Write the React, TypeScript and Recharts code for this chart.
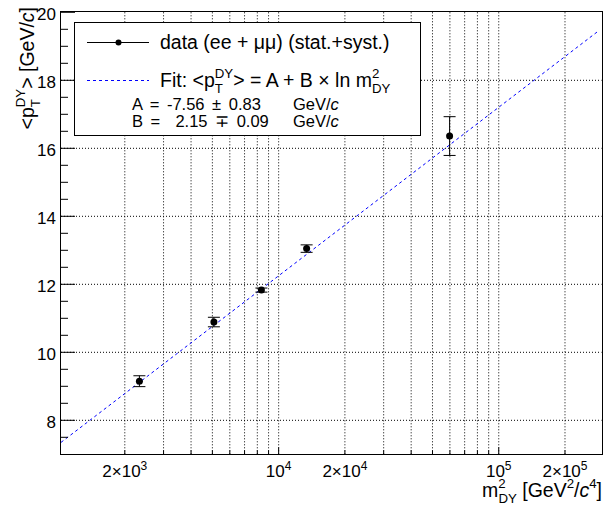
import React from 'react';
import { ComposedChart, Scatter, Line, XAxis, YAxis, ErrorBar, ReferenceLine } from 'recharts';

const massSq = [2330, 5080, 8350, 13400, 59800];
const meanPt = [9.15, 10.89, 11.83, 13.05, 16.36];
const meanPtErr = [0.16, 0.14, 0.06, 0.11, 0.57];

// fit line end points
const fitMassSq = [1026, 281000];
const fitMeanPt = [7.35, 19.43];

const xGrid = [2000, 3000, 4000, 5000, 6000, 7000, 8000, 9000, 10000, 20000, 30000, 40000, 50000, 60000, 70000, 80000, 90000, 100000, 200000];
const xLabelled = [2000, 10000, 20000, 100000, 200000];
const xLabelMant = ['2×10', '10', '2×10', '10', '2×10'];
const xLabelExp = ['3', '4', '4', '5', '5'];
const yGrid = [8, 10, 12, 14, 16, 18];
const yTicks = [7.5, 8, 8.5, 9, 9.5, 10, 10.5, 11, 11.5, 12, 12.5, 13, 13.5, 14, 14.5, 15, 15.5, 16, 16.5, 17, 17.5, 18, 18.5, 19, 19.5, 20];

const FONT = '"Liberation Sans", Arial, Helvetica, sans-serif';
const W = 603;
const H = 507;
const PLOT = { left: 61, top: 12.3, right: 601.5, bottom: 454.3 };

const points = massSq.map((x, i) => ({ x, y: meanPt[i], err: meanPtErr[i] }));
const fitData = fitMassSq.map((x, i) => ({ x, y: fitMeanPt[i] }));

// glyph widths (em) used to stack sup/sub
const CW: Record<string, number> = { T: 0.611, D: 0.722, Y: 0.667, '2': 0.556 };
const textW = (s: string) => s.split('').reduce((a, c) => a + (CW[c] ?? 0.6), 0);

const XTick = (props: any) => {
  const { x, y, payload } = props;
  const v = payload.value;
  const i = xLabelled.indexOf(v);
  const len = v === 10000 || v === 100000 ? 7 : 4;
  return (
    <g>
      <line x1={x} x2={x} y1={y} y2={y - len} stroke="#000" />
      {i >= 0 && (
        <text x={x} y={y + 23} textAnchor="middle" fontSize={17} fontFamily={FONT} fill="#000">
          {xLabelMant[i]}
          <tspan dy={-7} fontSize={12}>{xLabelExp[i]}</tspan>
        </text>
      )}
    </g>
  );
};

const YTick = (props: any) => {
  const { x, y, payload } = props;
  const v = payload.value;
  const major = v % 2 === 0;
  return (
    <g>
      <line x1={x} x2={x + (major ? 14 : 7)} y1={y} y2={y} stroke="#000" />
      {major && (
        <text x={x - 5} y={y + 7.5} textAnchor="end" fontSize={17} fontFamily={FONT} fill="#000">
          {v}
        </text>
      )}
    </g>
  );
};

// stacked superscript/subscript like ROOT's p_{T}^{DY}
function SS({ sup, sub }: { sup: string; sub: string }) {
  const supFirst = textW(sup) <= textW(sub);
  const first = supFirst ? sup : sub;
  const second = supFirst ? sub : sup;
  const base: React.CSSProperties = { fontSize: '0.68em', position: 'relative' };
  const supStyle: React.CSSProperties = { ...base, top: '-0.68em' };
  const subStyle: React.CSSProperties = { ...base, top: '0.42em' };
  return (
    <>
      <span style={supFirst ? supStyle : subStyle}>{first}</span>
      <span style={{ ...(supFirst ? subStyle : supStyle), marginLeft: `-${textW(first)}em` }}>{second}</span>
    </>
  );
}

function Sup({ children }: { children: React.ReactNode }) {
  return <span style={{ fontSize: '0.68em', position: 'relative', top: '-0.68em' }}>{children}</span>;
}

const legendLine: React.CSSProperties = { position: 'absolute', whiteSpace: 'nowrap' };

export default function App() {
  return (
    <div style={{ position: 'absolute', left: 0, top: 0, width: W, height: H, background: '#fff', fontFamily: FONT, color: '#000' }}>
      <ComposedChart
        width={W}
        height={H}
        margin={{ top: PLOT.top, right: W - PLOT.right, left: PLOT.left - 40, bottom: H - PLOT.bottom - 40 }}
      >
        <XAxis
          dataKey="x"
          type="number"
          scale="log"
          domain={[1026, 293000]}
          allowDataOverflow
          ticks={xGrid}
          tick={<XTick />}
          tickSize={0}
          tickMargin={0}
          axisLine={false}
          tickLine={false}
          height={40}
          interval={0}
        />
        <YAxis
          dataKey="y"
          type="number"
          domain={[7, 20]}
          allowDataOverflow
          ticks={yTicks}
          tick={<YTick />}
          tickSize={0}
          tickMargin={0}
          axisLine={false}
          tickLine={false}
          width={40}
          interval={0}
        />
        {xGrid.map((v) => (
          <ReferenceLine key={'gx' + v} x={v} stroke="#000" strokeWidth={1} strokeDasharray="1 2" />
        ))}
        {yGrid.map((v) => (
          <ReferenceLine key={'gy' + v} y={v} stroke="#000" strokeWidth={1} strokeDasharray="1 2" />
        ))}
        <Line
          data={fitData}
          dataKey="y"
          type="linear"
          stroke="#0000ff"
          strokeWidth={1}
          strokeDasharray="3 3"
          dot={false}
          activeDot={false}
          isAnimationActive={false}
        />
        <Scatter
          data={points}
          dataKey="y"
          fill="#000"
          isAnimationActive={false}
          shape={(p: any) => <circle cx={p.cx} cy={p.cy} r={3.5} fill="#000" />}
        >
          <ErrorBar dataKey="err" direction="y" width={6} stroke="#000" strokeWidth={1} />
        </Scatter>
      </ComposedChart>

      {/* frame */}
      <div
        style={{
          position: 'absolute',
          left: PLOT.left - 1,
          top: PLOT.top - 1,
          width: PLOT.right - PLOT.left,
          height: PLOT.bottom - PLOT.top,
          border: '1.5px solid #000',
          pointerEvents: 'none',
        }}
      />

      {/* legend */}
      <div
        style={{
          position: 'absolute',
          left: 74,
          top: 22,
          width: 345,
          height: 112,
          border: '1px solid #000',
          background: '#fff',
        }}
      >
        <svg width={80} height={70} style={{ position: 'absolute', left: 0, top: 0 }}>
          <line x1={12} x2={74} y1={19.5} y2={19.5} stroke="#000" strokeWidth={1.2} />
          <circle cx={43.5} cy={19.5} r={3} fill="#000" />
          <line x1={12} x2={74} y1={57.5} y2={57.5} stroke="#0000ff" strokeWidth={1} strokeDasharray="3 3" />
        </svg>
        <div style={{ ...legendLine, left: 85, top: 7, fontSize: 19.5, lineHeight: '24px' }}>
          data (ee + μμ) (stat.+syst.)
        </div>
        <div style={{ ...legendLine, left: 85, top: 45, fontSize: 19.5, lineHeight: '24px' }}>
          Fit: &lt;p<SS sup="DY" sub="T" />&gt; = A + B × ln m<SS sup="2" sub="DY" />
        </div>
        <div style={{ ...legendLine, left: 57, top: 72, fontSize: 16.5, lineHeight: '19px', wordSpacing: 3 }}>
          A = -7.56 ± 0.83
        </div>
        <div style={{ ...legendLine, left: 218, top: 72, fontSize: 16.5, lineHeight: '19px' }}>
          GeV/<i>c</i>
        </div>
        <div style={{ ...legendLine, left: 57, top: 89, fontSize: 16.5, lineHeight: '19px', wordSpacing: 3 }}>
          B =&nbsp; 2.15 ∓ 0.09
        </div>
        <div style={{ ...legendLine, left: 218, top: 89, fontSize: 16.5, lineHeight: '19px' }}>
          GeV/<i>c</i>
        </div>
      </div>

      {/* x title */}
      <div style={{ position: 'absolute', right: W - 602, top: 478, fontSize: 19.5, whiteSpace: 'nowrap', lineHeight: '24px' }}>
        m<SS sup="2" sub="DY" /> [GeV<Sup>2</Sup>/<i>c</i><Sup>4</Sup>]
      </div>

      {/* y title */}
      <div
        style={{
          position: 'absolute',
          right: W - 14,
          top: 7,
          fontSize: 19.5,
          whiteSpace: 'nowrap',
          lineHeight: '24px',
          transformOrigin: '100% 0',
          transform: 'rotate(-90deg)',
        }}
      >
        &lt;p<SS sup="DY" sub="T" />&gt; [GeV/<i>c</i>]
      </div>
    </div>
  );
}
